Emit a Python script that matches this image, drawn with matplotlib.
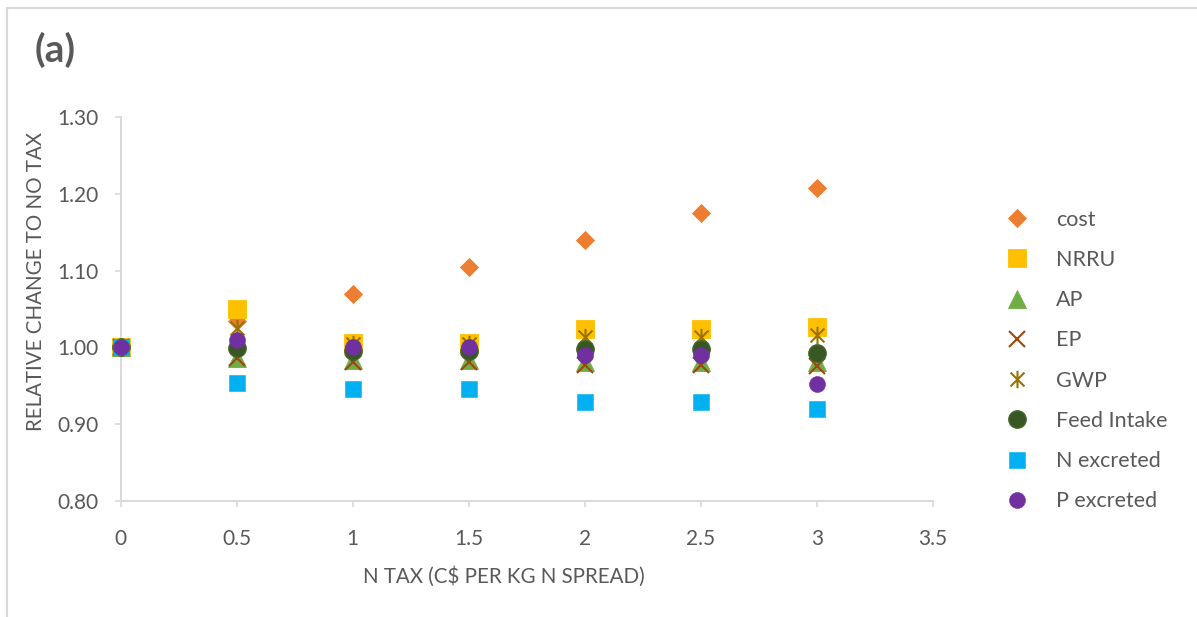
import matplotlib
matplotlib.use("Agg")
import matplotlib.pyplot as plt
from matplotlib.path import Path
from matplotlib.lines import Line2D

plt.rcParams['font.family'] = ['Lato', 'DejaVu Sans']

# ---- data ----
n_tax = [0, 0.5, 1, 1.5, 2, 2.5, 3]
cost = [1.000, 1.035, 1.070, 1.105, 1.140, 1.175, 1.208]
nrru = [1.000, 1.050, 1.006, 1.006, 1.024, 1.024, 1.027]
ap = [1.000, 0.986, 0.983, 0.983, 0.981, 0.981, 0.981]
ep = [1.000, 0.986, 0.981, 0.981, 0.977, 0.977, 0.976]
gwp = [1.000, 1.025, 1.005, 1.005, 1.014, 1.014, 1.016]
feed_intake = [1.000, 0.999, 0.995, 0.995, 0.998, 0.998, 0.992]
n_excreted = [1.000, 0.953, 0.946, 0.946, 0.929, 0.929, 0.919]
p_excreted = [1.000, 1.009, 1.000, 1.000, 0.990, 0.990, 0.952]

x_ticks = [0, 0.5, 1, 1.5, 2, 2.5, 3, 3.5]
x_tick_labels = ["0", "0.5", "1", "1.5", "2", "2.5", "3", "3.5"]
y_ticks = [0.80, 0.90, 1.00, 1.10, 1.20, 1.30]
y_tick_labels = ["0.80", "0.90", "1.00", "1.10", "1.20", "1.30"]

TXT = '#595959'
GRID = '#D9D9D9'

W, H = 1197, 617
fig = plt.figure(figsize=(W / 100, H / 100), dpi=100)
ax = fig.add_axes([120.7 / W, 1 - 500.7 / H, (933 - 120.7) / W, (500.7 - 117.3) / H])

# asterisk marker (X with vertical bar)
ast = Path([(-1, -1), (1, 1), (-1, 1), (1, -1), (0, -1.25), (0, 1.25)],
           [Path.MOVETO, Path.LINETO, Path.MOVETO, Path.LINETO, Path.MOVETO, Path.LINETO])

series = [
    ("cost", cost, dict(marker='D', ms=9.2, mfc='#ED7D31', mec='#ED7D31', mew=0.6)),
    ("NRRU", nrru, dict(marker='s', ms=12.5, mfc='#FFC000', mec='#FFC000', mew=0.6)),
    ("AP", ap, dict(marker='^', ms=13.5, mfc='#70AD47', mec='#70AD47', mew=0.6)),
    ("EP", ep, dict(marker='x', ms=12, mfc='none', mec='#9E480E', mew=1.5)),
    ("GWP", gwp, dict(marker=ast, ms=12.5, mfc='none', mec='#997300', mew=1.5)),
    ("Feed Intake", feed_intake, dict(marker='o', ms=12.5, mfc='#385723', mec='#44662D', mew=1.0)),
    ("N excreted", n_excreted, dict(marker='s', ms=12, mfc='#00B0F0', mec='#00B0F0', mew=0.4)),
    ("P excreted", p_excreted, dict(marker='o', ms=11.5, mfc='#7030A0', mec='#7030A0', mew=0.4)),
]

for name, vals, kw in series:
    ax.plot(n_tax, vals, ls='none', label=name, clip_on=False, zorder=3, **kw)

ax.set_xlim(0, 3.5)
ax.set_ylim(0.80, 1.30)
ax.set_xticks(x_ticks)
ax.set_xticklabels(x_tick_labels)
ax.set_yticks(y_ticks)
ax.set_yticklabels(y_tick_labels)

for s in ['top', 'right']:
    ax.spines[s].set_visible(False)
for s in ['left', 'bottom']:
    ax.spines[s].set_color(GRID)
    ax.spines[s].set_linewidth(1.4)

ax.tick_params(axis='x', direction='out', length=4.3, width=1.2, color=GRID,
               labelsize=15, labelcolor=TXT, pad=16)
ax.tick_params(axis='y', direction='out', length=4.3, width=1.2, color=GRID,
               labelsize=15, labelcolor=TXT, pad=11.5)

fig.text(36 / W, 1 - 281 / H, "RELATIVE CHANGE TO NO TAX", rotation=90,
         ha='center', va='center', fontsize=14.8, color=TXT)
fig.text(504 / W, 1 - 577 / H, "N TAX (C$ PER KG N SPREAD)",
         ha='center', va='center', fontsize=14.8, color=TXT)
fig.text(55 / W, 1 - 50 / H, "(a)", ha='center', va='center', fontsize=28,
         fontweight='bold', color=TXT)

leg = ax.legend(loc='center left', bbox_to_anchor=(1006.3 / W, 1 - 360.5 / H),
                bbox_transform=fig.transFigure, frameon=False, fontsize=15.5,
                handlelength=1.0, handletextpad=1.31, labelspacing=0.94,
                borderpad=0, borderaxespad=0, numpoints=1)
for t in leg.get_texts():
    t.set_color(TXT)

# outer chart border (left and top visible)
fig.add_artist(Line2D([7 / W, 7 / W], [0, 1 - 8 / H], transform=fig.transFigure,
                      color=GRID, lw=1.5))
fig.add_artist(Line2D([7 / W, 1], [1 - 8 / H, 1 - 8 / H], transform=fig.transFigure,
                      color=GRID, lw=1.5))

fig.savefig("out.png", dpi=100, facecolor='white')
